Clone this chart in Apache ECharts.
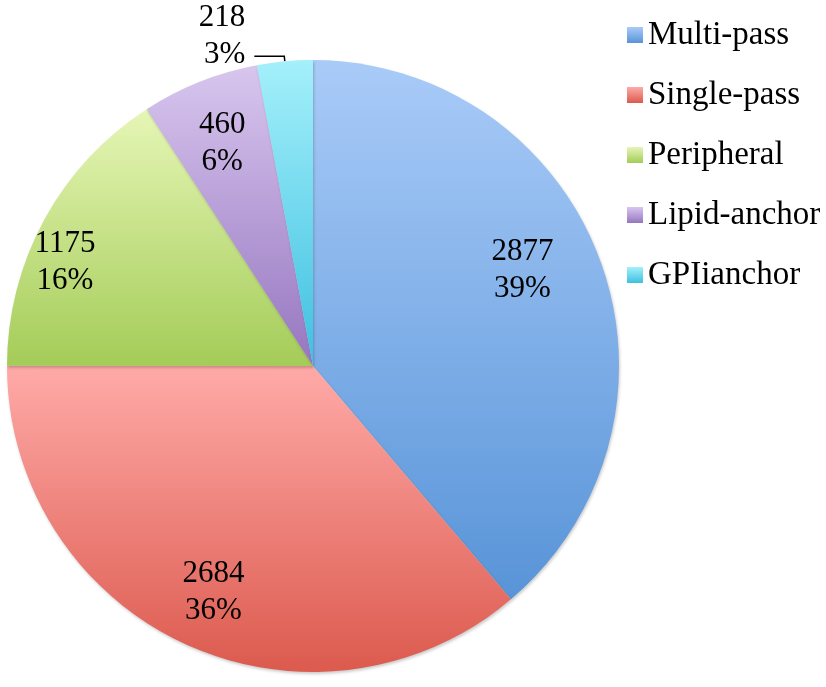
<!DOCTYPE html>
<html>
<head>
<meta charset="utf-8">
<script src="https://cdn.jsdelivr.net/npm/echarts@6/dist/echarts.min.js"></script>
<style>
html, body { margin: 0; padding: 0; background: #fff; }
#main { width: 826px; height: 687px; }
</style>
</head>
<body>
<div id="main"></div>
<script>
// data
var categories = ['Multi-pass', 'Single-pass', 'Peripheral', 'Lipid-anchor', 'GPIianchor'];
var counts = [2877, 2684, 1175, 460, 218];
var percentLabels = ['39%', '36%', '16%', '6%', '3%'];

// slice gradients, top -> bottom
var topColors = ['#a9cbf8', '#ffaaa8', '#e6f6b6', '#d8c6ee', '#a4f0fb'];
var bottomColors = ['#5894d8', '#dc5a4e', '#a4cc58', '#9676c0', '#3ec0e0'];
// label nudges from the default inside spot (last one sits outside)
var labelShift = [[63, -42], [-34, 85], [-111, -29], [-33, -78], null];

var serif = 'Liberation Serif';

var chart = echarts.init(document.getElementById('main'));

var seriesData = categories.map(function (name, i) {
    var item = {
        name: name,
        value: counts[i],
        itemStyle: {
            color: new echarts.graphic.LinearGradient(0, 0, 0, 1, [
                { offset: 0, color: topColors[i] },
                { offset: 1, color: bottomColors[i] }
            ])
        }
    };
    if (i === 4) {
        // small slice: label outside with a leader line,
        // an empty last line lifts the text above the line
        item.label = {
            position: 'outside',
            distanceToLabelLine: 9,
            formatter: function (p) {
                return '{t|' + p.value + '}\n{t|' + percentLabels[p.dataIndex] + '}\n{e| }';
            },
            rich: {
                t: { fontFamily: serif, fontSize: 31, lineHeight: 37, color: '#000' },
                e: { fontFamily: serif, fontSize: 10, lineHeight: 39 }
            }
        };
        item.labelLine = { show: true };
    }
    return item;
});

chart.setOption({
    animation: false,
    legend: {
        orient: 'vertical',
        left: 622,
        top: 13,
        icon: 'rect',
        itemWidth: 16,
        itemHeight: 16,
        itemGap: 26,
        textStyle: {
            fontFamily: serif,
            fontSize: 33,
            lineHeight: 34,
            color: '#000'
        },
        data: categories
    },
    series: [{
        type: 'pie',
        center: [313, 366],
        radius: 306,
        startAngle: 90,
        clockwise: true,
        avoidLabelOverlap: false,
        itemStyle: {
            shadowBlur: 3,
            shadowColor: 'rgba(0,0,0,0.2)',
            shadowOffsetX: 1,
            shadowOffsetY: 2
        },
        label: {
            show: true,
            position: 'inside',
            fontFamily: serif,
            fontSize: 31,
            lineHeight: 37,
            color: '#000',
            align: 'center',
            formatter: function (p) {
                return p.value + '\n' + percentLabels[p.dataIndex];
            }
        },
        labelLine: {
            show: false,
            length: 5,
            length2: 30,
            smooth: false,
            lineStyle: { color: '#000', width: 1.5 }
        },
        labelLayout: function (p) {
            var s = labelShift[p.dataIndex];
            return s ? { dx: s[0], dy: s[1] } : {};
        },
        emphasis: { disabled: true },
        data: seriesData
    }]
});
</script>
</body>
</html>
